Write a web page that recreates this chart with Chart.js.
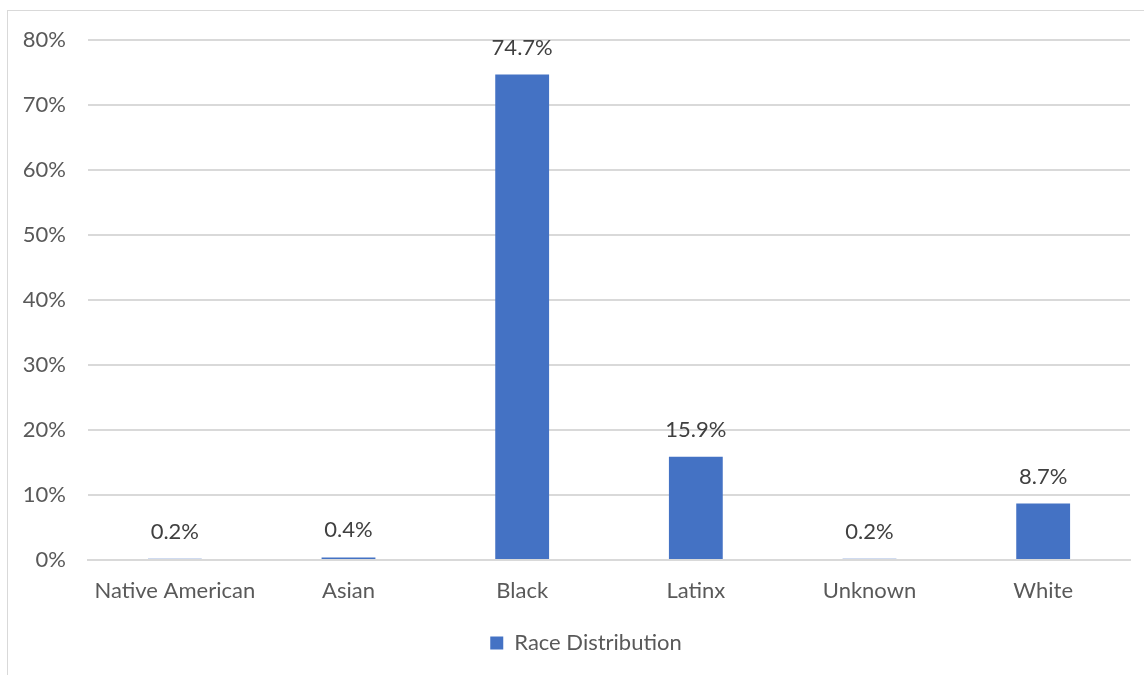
<!DOCTYPE html>
<html lang="en">
<head>
    <meta charset="utf-8">
    <title>Race Distribution</title>
    <script src="https://cdn.jsdelivr.net/npm/chart.js@4.4.1/dist/chart.umd.min.js"></script>
    <style>
        html, body { margin: 0; padding: 0; background: #fff; }
        #wrap { position: relative; width: 1144px; height: 675px; }
        #frame { position: absolute; left: 7px; top: 10px; right: -2px; bottom: -2px;
                 border-left: 1px solid #d9d9d9; border-top: 1px solid #d9d9d9; }
        canvas { position: absolute; left: 0; top: 0; }
    </style>
</head>
<body>
<div id="wrap">
    <div id="frame"></div>
    <canvas id="myChart" width="1144" height="675"></canvas>
</div>
<script>
var categories = ['Native American', 'Asian', 'Black', 'Latinx', 'Unknown', 'White'];
var raceShare = [0.2, 0.4, 74.7, 15.9, 0.2, 8.7];
var yTicks = [0, 10, 20, 30, 40, 50, 60, 70, 80];

var fontFamily = 'Lato, "Open Sans", sans-serif';
var textColor = '#595959';

// value labels over each bar
var barValues = {
    id: 'barValues',
    afterDatasetsDraw: function (chart) {
        var ctx = chart.ctx;
        var meta = chart.getDatasetMeta(0);
        ctx.save();
        ctx.font = '22px ' + fontFamily;
        ctx.fillStyle = '#404040';
        ctx.textAlign = 'center';
        ctx.textBaseline = 'middle';
        meta.data.forEach(function (bar, i) {
            ctx.fillText(raceShare[i].toFixed(1) + '%', bar.x, bar.y - 27);
        });
        ctx.restore();
    }
};

// center the legend under the plot area rather than the whole canvas
var legendShift = {
    id: 'legendShift',
    afterLayout: function (chart) {
        chart.legend.left += 21;
        chart.legend.right += 21;
    }
};

var ctx = document.getElementById('myChart').getContext('2d');
var myChart = new Chart(ctx, {
    type: 'bar',
    data: {
        labels: categories,
        datasets: [{
            label: 'Race Distribution',
            data: raceShare,
            backgroundColor: '#4472C4',
            categoryPercentage: 1.0,
            barPercentage: 0.31
        }]
    },
    options: {
        responsive: false,
        animation: false,
        layout: { padding: { left: 0, right: 14, top: 40, bottom: 11 } },
        plugins: {
            legend: {
                position: 'bottom',
                labels: {
                    color: textColor,
                    font: { family: fontFamily, size: 22 },
                    boxWidth: 13,
                    boxHeight: 13,
                    padding: 10
                }
            },
            tooltip: { enabled: false }
        },
        scales: {
            x: {
                grid: { display: false },
                border: { color: '#d9d9d9', width: 2 },
                ticks: {
                    color: textColor,
                    font: { family: fontFamily, size: 22 },
                    padding: 10,
                    maxRotation: 0
                },
                afterFit: function (scale) { scale.height = 62; }
            },
            y: {
                min: 0,
                max: 80,
                afterBuildTicks: function (scale) {
                    scale.ticks = yTicks.map(function (v) { return { value: v }; });
                },
                grid: { color: '#d9d9d9', lineWidth: 2, drawTicks: false },
                border: { display: false },
                ticks: {
                    color: textColor,
                    font: { family: fontFamily, size: 22 },
                    padding: 22,
                    callback: function (v) { return v + '%'; }
                },
                afterFit: function (scale) { scale.width = 88; }
            }
        }
    },
    plugins: [barValues, legendShift]
});
</script>
</body>
</html>
